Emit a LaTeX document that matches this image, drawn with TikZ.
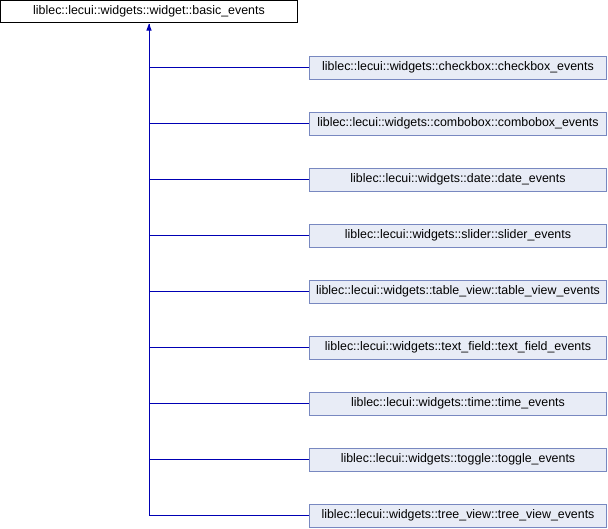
\documentclass[tikz,border=0pt]{standalone}
\usepackage{fontspec}
\setmainfont{Liberation Sans}
\usetikzlibrary{arrows.meta}
\definecolor{edgeblue}{RGB}{0,0,180}
\definecolor{boxborder}{RGB}{120,136,192}
\definecolor{boxfill}{RGB}{232,236,246}
\begin{document}
\begin{tikzpicture}[x=1pt,y=-1pt,
  base/.style={draw=black,fill=white,line width=1pt,minimum width=297pt,minimum height=22pt,inner sep=0pt,font=\fontsize{12.4}{14}\selectfont},
  child/.style={draw=boxborder,fill=boxfill,line width=1pt,minimum width=297pt,minimum height=23pt,inner sep=0pt,font=\fontsize{12.4}{14}\selectfont},
  edge/.style={draw=edgeblue,line width=1pt}]
\useasboundingbox (0,0) rectangle (608,528);
\node[base] (b) at (149,11.5) {liblec::lecui::widgets::widget::basic\_events};
\node[child] (c1) at (458,67.5) {liblec::lecui::widgets::checkbox::checkbox\_events};
\node[child] (c2) at (458,123.5) {liblec::lecui::widgets::combobox::combobox\_events};
\node[child] (c3) at (458,179.5) {liblec::lecui::widgets::date::date\_events};
\node[child] (c4) at (458,235.5) {liblec::lecui::widgets::slider::slider\_events};
\node[child] (c5) at (458,291.5) {liblec::lecui::widgets::table\_view::table\_view\_events};
\node[child] (c6) at (458,347.5) {liblec::lecui::widgets::text\_field::text\_field\_events};
\node[child] (c7) at (458,403.5) {liblec::lecui::widgets::time::time\_events};
\node[child] (c8) at (458,459.5) {liblec::lecui::widgets::toggle::toggle\_events};
\node[child] (c9) at (458,515.5) {liblec::lecui::widgets::tree\_view::tree\_view\_events};
\coordinate (j) at (149,515.5);
\draw[edge] (c9.west) -- (j) -- ([yshift=-0.5pt]b.south);
\draw[edge,-{Triangle[length=7pt,width=5pt]}] (149,40) -- ([yshift=-0.5pt]b.south);
\foreach \i in {1,...,8} {\draw[edge] (c\i.west) -- (c\i.west -| j);}
\end{tikzpicture}
\end{document}
